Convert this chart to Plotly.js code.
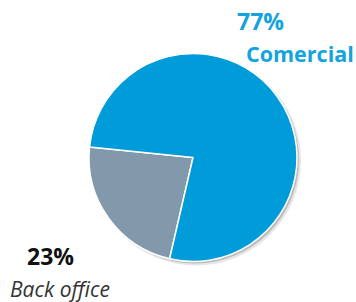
<!DOCTYPE html>
<html>
<head>
<meta charset="utf-8">
<script src="https://cdn.plot.ly/plotly-3.0.1.min.js"></script>
<style>html,body{margin:0;padding:0;background:#fff;}#chart{width:356px;height:302px;}</style>
</head>
<body>
<div id="chart"></div>
<script>
var categories = ["Back office", "Comercial"];
var values = [23, 77];
var sliceColors = ["#8199AB", "#009BD9"];

var W = 356, H = 302;
var cx = 193, cy = 157.5, r = 104;
function dom(x0, y0, rad) {
  return {x: [(x0 - rad) / W, (x0 + rad) / W], y: [1 - (y0 + rad) / H, 1 - (y0 - rad) / H]};
}

var shadow1 = {type: "pie", values: [1], labels: ["s1"], domain: dom(cx + 3, cy + 3, r + 1),
  marker: {colors: ["rgba(0,0,0,0.10)"], line: {width: 0}}, textinfo: "none", hoverinfo: "skip", showlegend: false, sort: false};
var shadow2 = {type: "pie", values: [1], labels: ["s2"], domain: dom(cx + 2, cy + 2, r),
  marker: {colors: ["rgba(0,0,0,0.18)"], line: {width: 0}}, textinfo: "none", hoverinfo: "skip", showlegend: false, sort: false};

var pie = {
  type: "pie",
  labels: categories,
  values: values,
  sort: false,
  direction: "clockwise",
  rotation: 193,
  domain: dom(cx, cy, r),
  marker: {colors: sliceColors, line: {color: "#ffffff", width: 1.5}},
  textinfo: "none",
  hoverinfo: "label+percent",
  showlegend: false
};

var labelFont = "'Open Sans', sans-serif";
var annotations = [
  {text: "<b>" + values[1] + "%</b>", x: 236 / W, y: 1 - 21 / H, font: {family: labelFont, size: 23, color: "#13A3DE"}},
  {text: "<b>" + categories[1] + "</b>", x: 245 / W, y: 1 - 53.5 / H, font: {family: labelFont, size: 21.5, color: "#13A3DE"}},
  {text: "<b>" + values[0] + "%</b>", x: 26 / W, y: 1 - 255.5 / H, font: {family: labelFont, size: 23, color: "#111111"}},
  {text: "<i>" + categories[0] + "</i>", x: 9 / W, y: 1 - 288.5 / H, font: {family: labelFont, size: 21, color: "#333333"}}
].map(function (a) {
  a.xref = "paper"; a.yref = "paper"; a.xanchor = "left"; a.yanchor = "middle"; a.showarrow = false; a.borderpad = 0;
  return a;
});

var layout = {
  width: W, height: H,
  margin: {l: 0, r: 0, t: 0, b: 0},
  paper_bgcolor: "#ffffff",
  plot_bgcolor: "#ffffff",
  showlegend: false,
  annotations: annotations
};

Plotly.newPlot("chart", [shadow1, shadow2, pie], layout, {displayModeBar: false, staticPlot: true});
</script>
</body>
</html>
